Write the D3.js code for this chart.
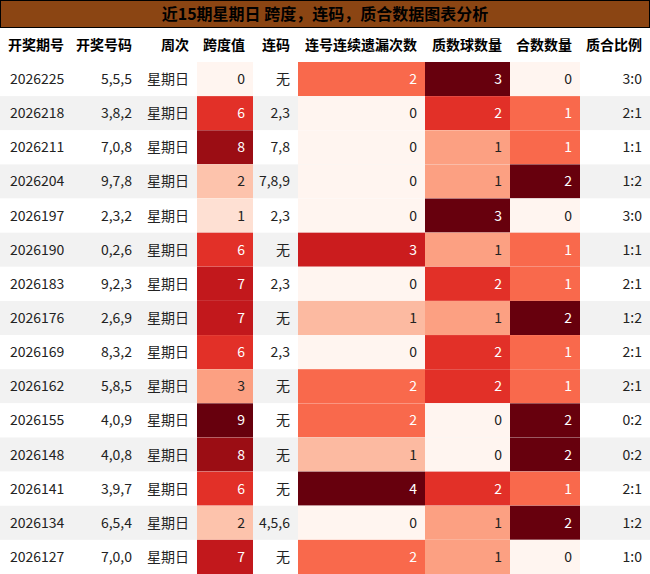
<!DOCTYPE html>
<html><head><meta charset="utf-8">
<script src="https://cdn.jsdelivr.net/npm/d3@7"></script>
<style>body{margin:0;background:#fff;font-family:"Noto Sans CJK SC","Liberation Sans",sans-serif;}</style>
</head><body><svg id="chart" width="650" height="574"></svg>
<script>
// table data
const headers=["开奖期号","开奖号码","周次","跨度值","连码","连号连续遗漏次数","质数球数量","合数数量","质合比例"];
const issues=["2026225","2026218","2026211","2026204","2026197","2026190","2026183","2026176","2026169","2026162","2026155","2026148","2026141","2026134","2026127"];
const numbers=["5,5,5","3,8,2","7,0,8","9,7,8","2,3,2","0,2,6","9,2,3","2,6,9","8,3,2","5,8,5","4,0,9","4,0,8","3,9,7","6,5,4","7,0,0"];
const spans=[0,6,8,2,1,6,7,7,6,3,9,8,6,2,7];
const links=["无","2,3","7,8","7,8,9","2,3","无","2,3","无","2,3","无","无","无","无","4,5,6","无"];
const omits=[2,0,0,0,0,3,0,1,0,2,2,1,4,0,2];
const primes=[3,2,1,1,3,1,2,1,2,2,0,0,2,1,1];
const composites=[0,1,1,2,0,1,1,2,1,1,2,2,1,2,0];
const ratios=["3:0","2:1","1:1","1:2","3:0","1:1","2:1","1:2","2:1","2:1","0:2","0:2","2:1","1:2","1:0"];

const svg=d3.select("#chart");
const W=650, titleH=28, headH=34, rowH=34.07;
const edges=[0,70,140,197,253,298,425,510,580,650];

// title bar
svg.append("rect").attr("x",0.5).attr("y",0.5).attr("width",W-1).attr("height",titleH-1)
  .attr("fill","#8b4513").attr("stroke","#000");
svg.append("text").attr("x",W/2).attr("y",20).attr("text-anchor","middle")
  .attr("font-size",16).attr("font-weight","bold").text("近15期星期日 跨度，连码，质合数据图表分析");

// header
headers.forEach((h,i)=>{
  svg.append("text").attr("x",i==0?8:edges[i+1]-8).attr("y",titleH+headH/2+5)
    .attr("text-anchor",i==0?"start":"end").attr("font-size",14).attr("font-weight","bold").text(h);
});

const y=d3.scaleBand().domain(d3.range(issues.length)).range([titleH+headH,574]);
const heat=[[3,spans],[5,omits],[6,primes],[7,composites]];
const scales={};
heat.forEach(([c,v])=>{scales[c]=d3.scaleLinear().domain(d3.extent(v)).range([0,1]);});

issues.forEach((id,r)=>{
  const g=svg.append("g").attr("transform",`translate(0,${y(r)})`);
  g.append("rect").attr("width",W).attr("height",y.bandwidth()).attr("fill",r%2?"#f2f2f2":"#fff");
  const vals=[id,numbers[r],"星期日",spans[r],links[r],omits[r],primes[r],composites[r],ratios[r]];
  vals.forEach((v,c)=>{
    let col="#222";
    if(scales[c]){
      const t=scales[c](v);
      g.append("rect").attr("x",edges[c]).attr("width",edges[c+1]-edges[c]).attr("height",y.bandwidth())
        .attr("fill",d3.interpolateReds(t));
      if(t>=0.5) col="#fff";
    }
    g.append("text").attr("x",c==0?10:edges[c+1]-8).attr("y",y.bandwidth()/2+5)
      .attr("text-anchor",c==0?"start":"end").attr("font-size",14).attr("fill",col).text(v);
  });
});
</script></body></html>
